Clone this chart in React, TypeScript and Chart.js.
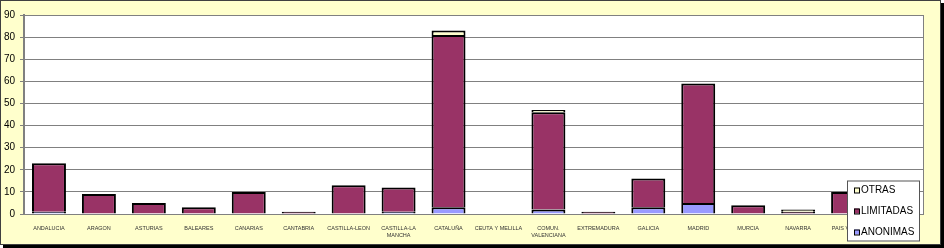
import React, { useEffect, useRef } from "react";
import { Chart, registerables } from "chart.js";

Chart.register(...registerables);

const categories: (string | string[])[] = [
  "ANDALUCIA",
  "ARAGON",
  "ASTURIAS",
  "BALEARES",
  "CANARIAS",
  "CANTABRIA",
  "CASTILLA-LEON",
  ["CASTILLA-LA", "MANCHA"],
  "CATALUÑA",
  "CEUTA Y MELILLA",
  ["COMUN.", "VALENCIANA"],
  "EXTREMADURA",
  "GALICIA",
  "MADRID",
  "MURCIA",
  "NAVARRA",
  "PAIS VASCO",
  "LA RIOJA",
];

const anonimas = [1, 0, 0, 0, 0, 0, 0, 1, 3, 0, 2, 0, 3, 5, 0, 0, 0, 0];
const limitadas = [22, 9, 5, 3, 10, 1, 13, 11, 78, 0, 44, 1, 13, 54, 4, 1, 10, 3];
const otras = [0, 0, 0, 0, 0, 0, 0, 0, 2, 0, 1, 0, 0, 0, 0, 1, 0, 0];

const yTicks = [0, 10, 20, 30, 40, 50, 60, 70, 80, 90];

const COLOR_ANON = "#9999FF";
const COLOR_LIM = "#993366";
const COLOR_OTRAS = "#FFFFCC";
const BG = "#FFFFCC";
const GRID = "#808080";

const nz = (arr: number[]) => arr.map((v) => (v === 0 ? null : v));

const framePlugin = {
  id: "frame",
  beforeDraw(chart: any) {
    const { ctx, chartArea } = chart;
    const W = chart.width;
    const H = chart.height;
    ctx.save();
    ctx.fillStyle = "#FFFFFF";
    ctx.fillRect(0, 0, W, H);
    ctx.fillStyle = "#000000";
    ctx.fillRect(3, 3, W - 3, H - 3);
    ctx.fillStyle = BG;
    ctx.fillRect(0, 0, W - 3, H - 3);
    ctx.strokeStyle = "#404040";
    ctx.lineWidth = 1;
    ctx.strokeRect(0.5, 0.5, W - 4, H - 4);
    ctx.fillStyle = "#FFFFFF";
    ctx.fillRect(chartArea.left, chartArea.top, chartArea.right - chartArea.left, chartArea.bottom - chartArea.top);
    ctx.restore();
  },
  afterDraw(chart: any) {
    const { ctx, chartArea } = chart;
    ctx.save();
    ctx.strokeStyle = GRID;
    ctx.lineWidth = 1;
    ctx.beginPath();
    ctx.moveTo(Math.round(chartArea.right) + 0.5, chartArea.top);
    ctx.lineTo(Math.round(chartArea.right) + 0.5, chartArea.bottom);
    ctx.stroke();

    // legend
    const lx = 847, ly = 180.5, lw = 73, lh = 61;
    ctx.fillStyle = "#FFFFFF";
    ctx.fillRect(lx, ly, lw, lh);
    ctx.strokeStyle = "#555555";
    ctx.strokeRect(lx + 0.5, ly + 0.5, lw - 1, lh - 1);
    const items = [...chart.data.datasets].reverse();
    const rowsY = [190.5, 211.5, 232.5];
    ctx.font = "10px Arial, 'Liberation Sans', sans-serif";
    ctx.textBaseline = "middle";
    ctx.textAlign = "left";
    items.forEach((ds: any, i: number) => {
      const y = rowsY[i];
      ctx.fillStyle = ds.backgroundColor;
      ctx.fillRect(854, y - 3, 5, 5);
      ctx.strokeStyle = "#000000";
      ctx.lineWidth = 1;
      ctx.strokeRect(854.5, y - 2.5, 5, 5);
      ctx.fillStyle = "#000000";
      ctx.fillText(ds.label, 861, y);
    });
    ctx.restore();
  },
};

export default function App() {
  const ref = useRef<HTMLCanvasElement | null>(null);

  useEffect(() => {
    document.body.style.margin = "0";
    if (!ref.current) return;
    const common = {
      borderColor: "#000000",
      borderWidth: 2,
      borderSkipped: "start" as const,
      categoryPercentage: 1,
      barPercentage: 0.68,
    };
    const chart = new Chart(ref.current, {
      type: "bar",
      data: {
        labels: categories,
        datasets: [
          { label: "ANONIMAS", data: nz(anonimas), backgroundColor: COLOR_ANON, ...common },
          { label: "LIMITADAS", data: nz(limitadas), backgroundColor: COLOR_LIM, ...common },
          { label: "OTRAS", data: nz(otras), backgroundColor: COLOR_OTRAS, ...common },
        ],
      },
      options: {
        animation: false,
        responsive: false,
        maintainAspectRatio: false,
        layout: { padding: { left: 0, top: 15, right: 21, bottom: 0 } },
        plugins: {
          legend: { display: false },
          tooltip: { enabled: false },
        },
        scales: {
          x: {
            stacked: true,
            grid: { display: false },
            border: { display: true, color: GRID, width: 1 },
            ticks: {
              autoSkip: false,
              maxRotation: 0,
              minRotation: 0,
              padding: 3,
              color: "#333333",
              font: { family: "Arial, 'Liberation Sans', sans-serif", size: 5.5, lineHeight: 1.3 },
            },
            afterFit(scale: any) {
              scale.height = 34;
            },
          },
          y: {
            stacked: true,
            min: 0,
            max: 90,
            afterBuildTicks(scale: any) {
              scale.ticks = yTicks.map((v) => ({ value: v }));
            },
            grid: {
              color: GRID,
              lineWidth: 1,
              drawTicks: true,
              tickLength: 4,
              tickColor: GRID,
            },
            border: { display: true, color: GRID, width: 2 },
            ticks: {
              padding: 5,
              color: "#000000",
              font: { family: "Arial, 'Liberation Sans', sans-serif", size: 10 },
            },
            afterFit(scale: any) {
              scale.width = 24;
            },
          },
        },
      },
      plugins: [framePlugin],
    } as any);
    return () => chart.destroy();
  }, []);

  return (
    <div style={{ width: 944, height: 248 }}>
      <canvas ref={ref} width={944} height={248} style={{ display: "block" }} />
    </div>
  );
}
